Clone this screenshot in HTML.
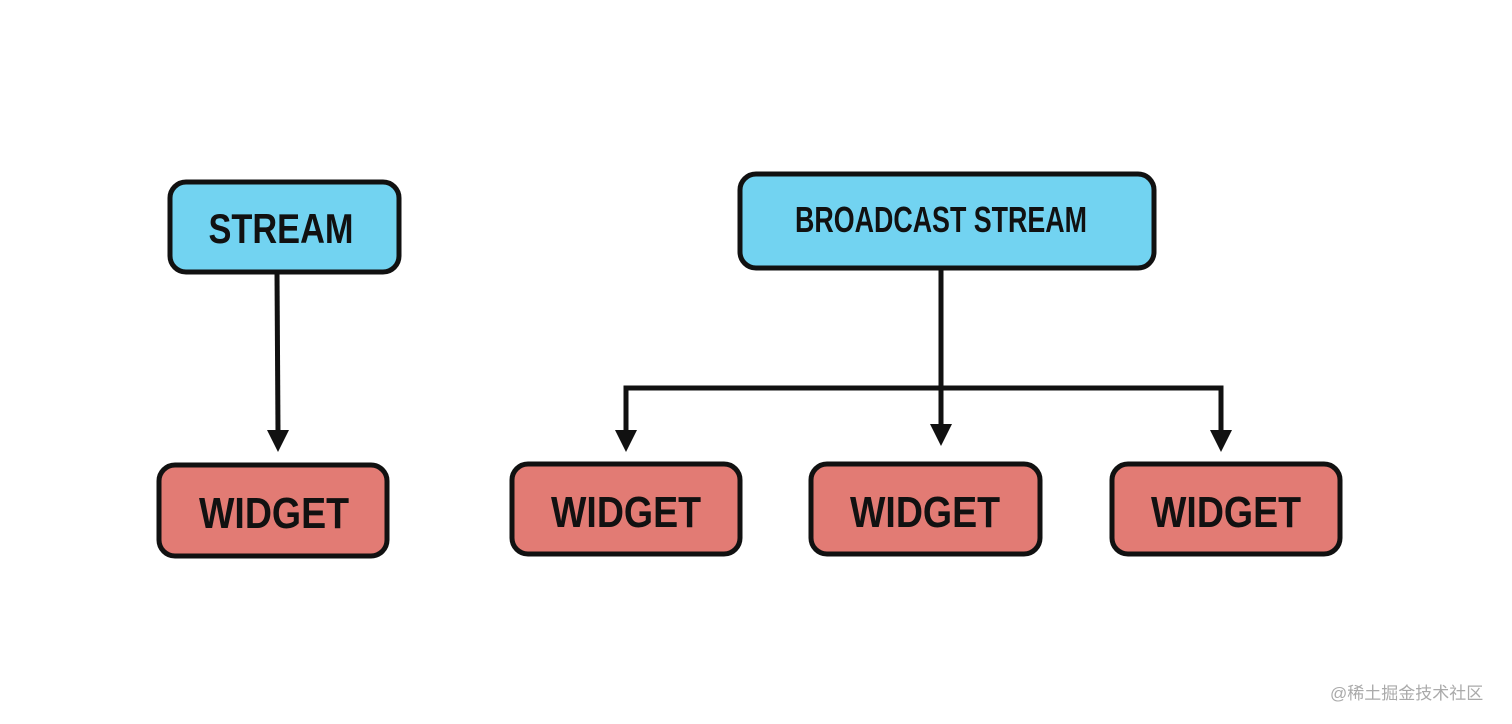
<!DOCTYPE html>
<html><head><meta charset="utf-8"><style>
html,body{margin:0;padding:0;background:#fff;width:1512px;height:724px;overflow:hidden}
svg text{font-family:"Liberation Sans Narrow","Liberation Sans",sans-serif;font-weight:bold;fill:#111}
</style></head><body>
<svg width="1512" height="724" viewBox="0 0 1512 724">
<defs>
<linearGradient id="b" x1="0" y1="0" x2="1" y2="0">
<stop offset="0" stop-color="#74d2f0"/><stop offset="1" stop-color="#6dd0f2"/></linearGradient>
</defs>
<g stroke="#111" stroke-width="5">
<rect x="170" y="182" width="229" height="90" rx="16" fill="#72d3f1"/>
<rect x="740" y="174" width="414" height="94" rx="16" fill="#72d3f1"/>
<rect x="159" y="465" width="228" height="91" rx="16" fill="#e27b74"/>
<rect x="512" y="464" width="228" height="90" rx="16" fill="#e27b74"/>
<rect x="811" y="464" width="229" height="90" rx="16" fill="#e27b74"/>
<rect x="1112" y="464" width="228" height="90" rx="16" fill="#e27b74"/>
</g>
<g stroke="#111" stroke-width="5" fill="none">
<line x1="277" y1="273" x2="278" y2="432"/>
<line x1="941" y1="269" x2="941" y2="428"/>
<polyline points="626,432 626,388 1221,388 1221,432"/>
</g>
<g fill="#111">
<polygon points="267,430 289,430 278,452"/>
<polygon points="930,424 952,424 941,446"/>
<polygon points="615,430 637,430 626,452"/>
<polygon points="1210,430 1232,430 1221,452"/>
</g>
<g font-size="44" text-anchor="middle">
<text x="281" y="243" font-size="42" textLength="145" lengthAdjust="spacingAndGlyphs">STREAM</text>
<text x="941" y="232" font-size="36" textLength="292" lengthAdjust="spacingAndGlyphs">BROADCAST STREAM</text>
<text x="274" y="528" textLength="150" lengthAdjust="spacingAndGlyphs">WIDGET</text>
<text x="626" y="527" textLength="150" lengthAdjust="spacingAndGlyphs">WIDGET</text>
<text x="925" y="527" textLength="150" lengthAdjust="spacingAndGlyphs">WIDGET</text>
<text x="1226" y="527" textLength="150" lengthAdjust="spacingAndGlyphs">WIDGET</text>
</g>
<text x="1330" y="699" font-size="17" style="font-family:'Liberation Sans','Noto Sans CJK SC',sans-serif;font-weight:normal;fill:#aaa">@稀土掘金技术社区</text>
</svg>
</body></html>
